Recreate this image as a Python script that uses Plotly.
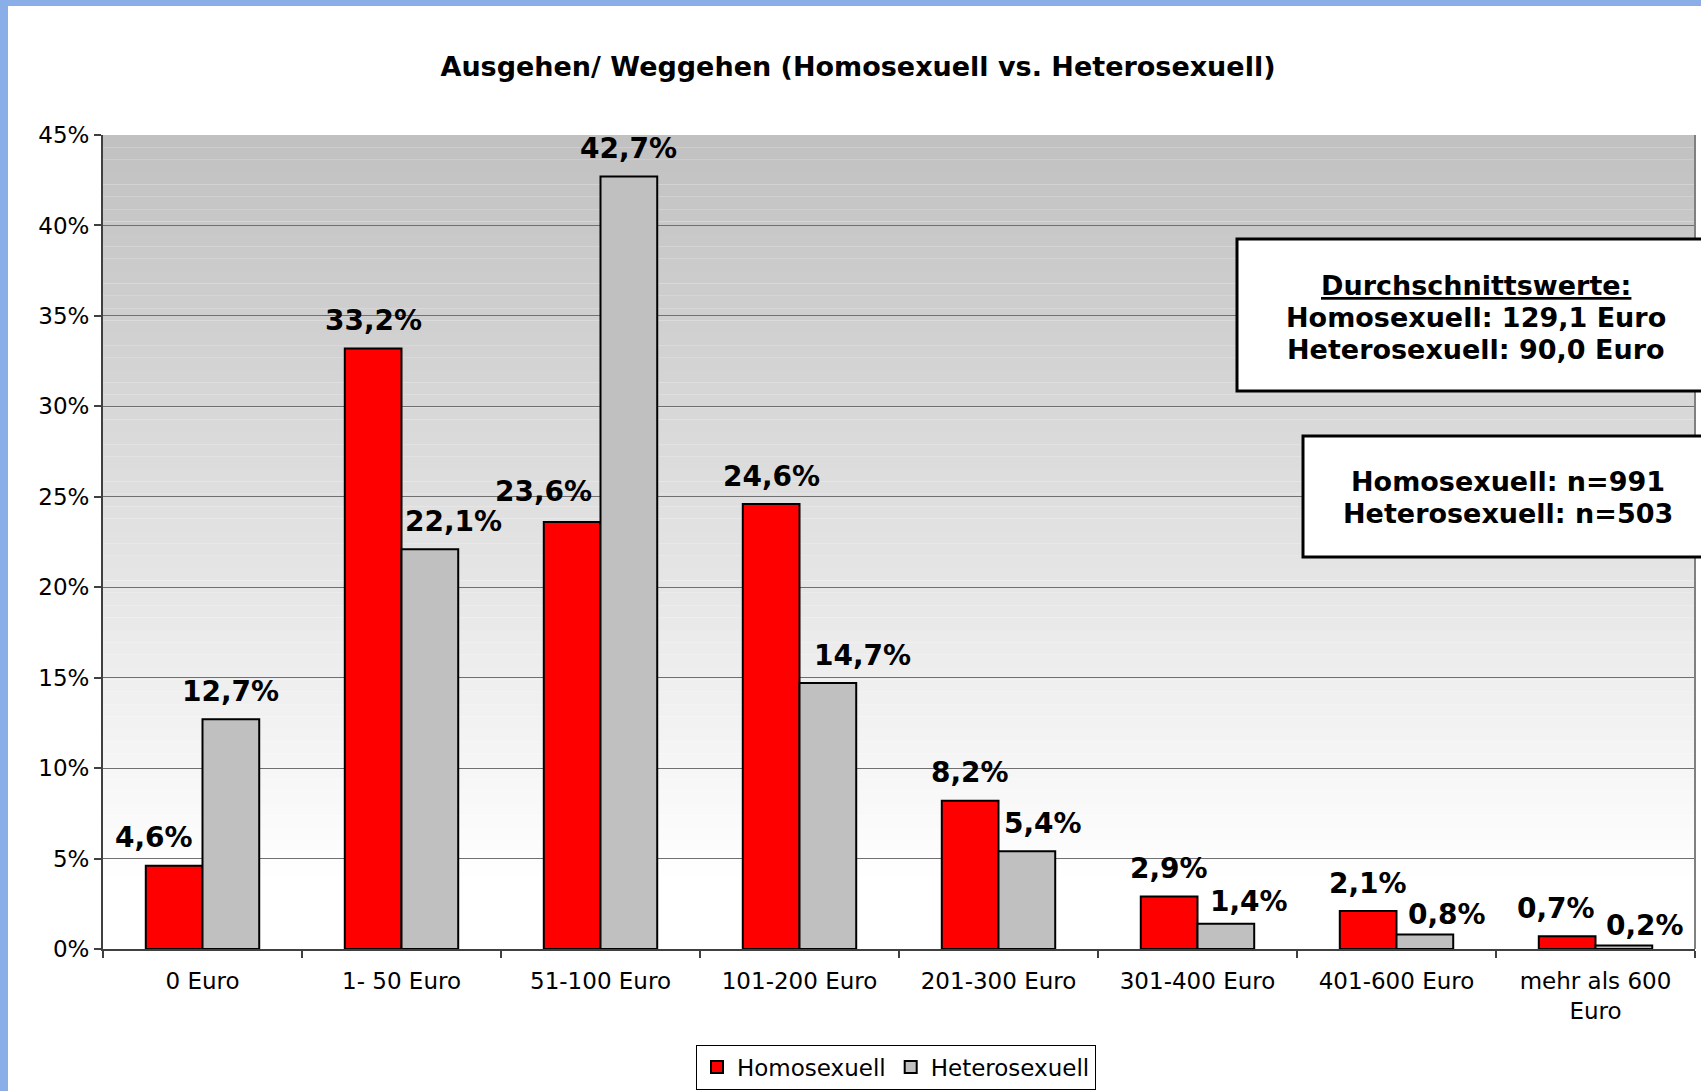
import plotly.graph_objects as go

categories = ["0 Euro", "1- 50 Euro", "51-100 Euro", "101-200 Euro",
              "201-300 Euro", "301-400 Euro", "401-600 Euro", "mehr als 600<br>Euro"]
homo = [4.6, 33.2, 23.6, 24.6, 8.2, 2.9, 2.1, 0.7]
hetero = [12.7, 22.1, 42.7, 14.7, 5.4, 1.4, 0.8, 0.2]

avg_lines = ["<u>Durchschnittswerte:</u>", "Homosexuell: 129,1 Euro", "Heterosexuell: 90,0 Euro"]
n_lines = ["Homosexuell: n=991", "Heterosexuell: n=503"]

FONT = "DejaVu Sans"
W, H = 1701, 1091
L, R, T, B = 103, 6, 135, 142
PW = W - L - R
PH = H - T - B


def px_x(px):
    return (px - L) / PW


def px_y(py):
    return (H - B - py) / PH


fig = go.Figure()
fig.add_trace(go.Bar(x=categories, y=homo, name="Homosexuell",
                     marker=dict(color="#FF0000", line=dict(color="black", width=2))))
fig.add_trace(go.Bar(x=categories, y=hetero, name="Heterosexuell",
                     marker=dict(color="#C0C0C0", line=dict(color="black", width=2))))

# gradient background of the plot area
n_bands = 60
g_bottom = 0.088
shapes = []
for k in range(n_bands):
    y0 = g_bottom + (1 - g_bottom) * k / n_bands
    y1 = g_bottom + (1 - g_bottom) * (k + 1) / n_bands
    c = int(round(255 - (255 - 192) * (k + 0.5) / n_bands))
    shapes.append(dict(type="rect", xref="x domain", yref="y domain", x0=0, x1=1,
                       y0=y0, y1=y1, fillcolor=f"rgb({c},{c},{c})",
                       line=dict(width=0), layer="below"))

# right border of plot area
shapes.append(dict(type="line", xref="paper", yref="paper", x0=1, x1=1, y0=0, y1=1,
                   line=dict(color="#808080", width=2)))

# blue page border
blue = "#8AAEE8"
shapes.append(dict(type="rect", xref="paper", yref="paper", x0=px_x(-5), x1=px_x(8),
                   y0=px_y(H + 5), y1=px_y(-5), fillcolor=blue, line=dict(width=0)))
shapes.append(dict(type="rect", xref="paper", yref="paper", x0=px_x(-5), x1=px_x(W + 5),
                   y0=px_y(6), y1=px_y(-5), fillcolor=blue, line=dict(width=0)))

# info boxes
shapes.append(dict(type="rect", xref="paper", yref="paper", x0=px_x(1237), x1=px_x(W + 20),
                   y0=px_y(391), y1=px_y(239), fillcolor="white",
                   line=dict(color="black", width=3)))
shapes.append(dict(type="rect", xref="paper", yref="paper", x0=px_x(1303), x1=px_x(W + 20),
                   y0=px_y(557), y1=px_y(436), fillcolor="white",
                   line=dict(color="black", width=3)))

annotations = []
half = (1 - 0.43) / 4
homo_dx = [-20, 0, -29, 0, 0, 0, 0, -11]
hetero_dx = [0, 24, 0, 35, 16, 23, 22, 21]
homo_dy = [28, 28, 31, 28, 28, 28, 28, 28]
hetero_dy = [28, 28, 28, 28, 28, 22, 20, 20]
for i in range(len(categories)):
    for vals, sign, dx, dy in ((homo, -1, homo_dx, homo_dy), (hetero, 1, hetero_dx, hetero_dy)):
        annotations.append(dict(
            x=i + sign * half, y=vals[i], xref="x", yref="y",
            text=f"{vals[i]:.1f}%".replace(".", ","),
            showarrow=False, xshift=dx[i], yshift=dy[i], yanchor="middle",
            font=dict(family=FONT, size=28, color="black", weight="bold")))

box_font = dict(family=FONT, size=27, color="black", weight="bold")
for j, line in enumerate(avg_lines):
    annotations.append(dict(xref="paper", yref="paper", x=px_x(1476), y=px_y(285 + 32 * j),
                            text=line, showarrow=False, xanchor="center", yanchor="middle",
                            font=box_font))
for j, line in enumerate(n_lines):
    annotations.append(dict(xref="paper", yref="paper", x=px_x(1508), y=px_y(482 + 31 * j),
                            text=line, showarrow=False, xanchor="center", yanchor="middle",
                            font=box_font))

fig.update_layout(
    width=W, height=H,
    margin=dict(l=L, r=R, t=T, b=B, autoexpand=False),
    paper_bgcolor="white",
    plot_bgcolor="white",
    barmode="group", bargap=0.43, bargroupgap=0,
    title=dict(text="Ausgehen/ Weggehen (Homosexuell vs. Heterosexuell)",
               xref="container", yref="container", x=858 / W, y=1 - 67 / H,
               xanchor="center", yanchor="middle",
               font=dict(family=FONT, size=27, color="black", weight="bold")),
    font=dict(family=FONT, size=23, color="black"),
    legend=dict(orientation="h", x=px_x(896), y=px_y(1067), xanchor="center", yanchor="middle",
                bordercolor="black", borderwidth=1, bgcolor="white",
                font=dict(family=FONT, size=23), itemwidth=30,
                tracegroupgap=0),
    shapes=shapes,
    annotations=annotations,
)
fig.update_xaxes(type="category", showgrid=False, showline=True, linecolor="#404040",
                 linewidth=2, ticks="outside", tickson="boundaries", ticklen=7,
                 tickcolor="#404040", tickwidth=1.5, tickfont=dict(size=23),
                 ticklabelstandoff=10, automargin=False)
fig.update_yaxes(range=[0, 45], dtick=5, ticksuffix="%", showgrid=True,
                 gridcolor="#707070", gridwidth=1.3, showline=True, linecolor="#404040",
                 linewidth=2, ticks="outside", ticklen=7, tickcolor="#404040",
                 tickwidth=1.5, zeroline=False, tickfont=dict(size=23), automargin=False)

fig.write_html("out.html", config={"displayModeBar": False},
               post_script="document.body.style.margin='0';")
